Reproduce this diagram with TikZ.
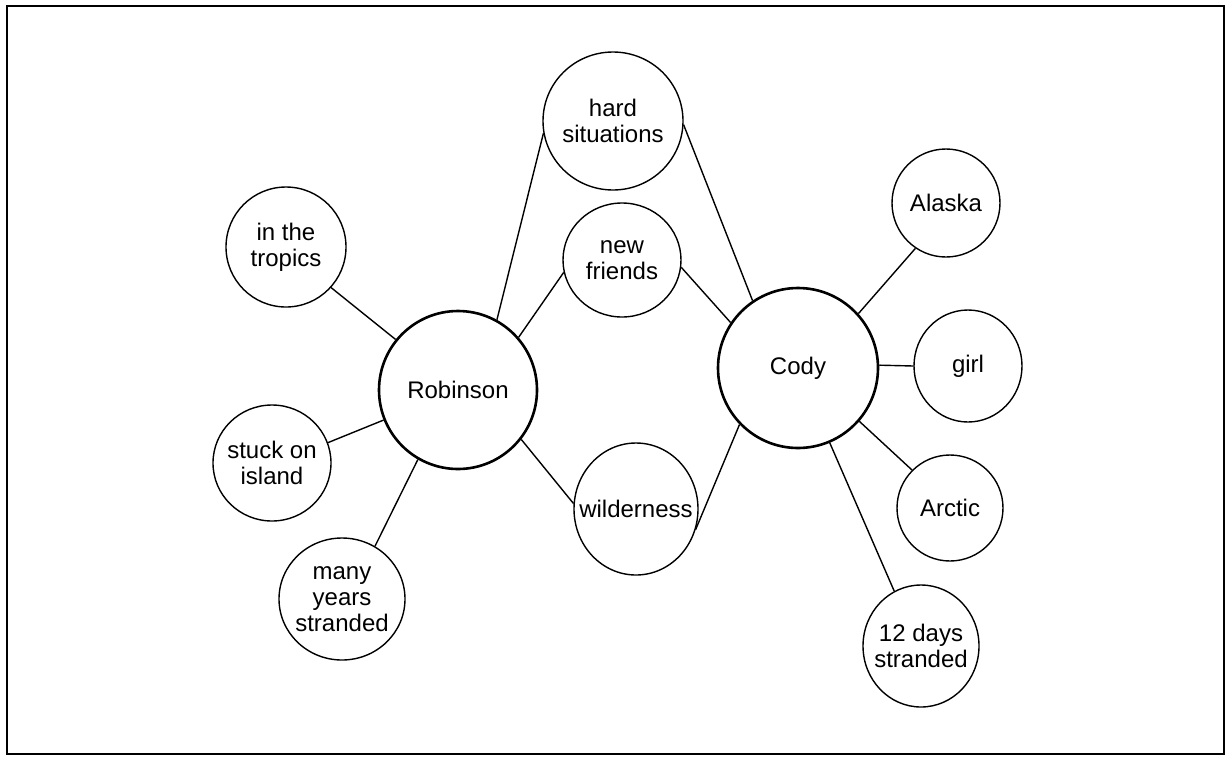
\documentclass[tikz,border=0pt]{standalone}
\usepackage{fontspec}
\setmainfont{Liberation Sans}
\usetikzlibrary{shapes.geometric}
\begin{document}
\begin{tikzpicture}[x=1pt,y=-1pt,
  bub/.style={ellipse, draw, line width=1.4pt, inner xsep=-30pt, inner ysep=-20pt,
    align=center, font=\fontsize{24}{26}\selectfont},
  bigbub/.style={bub, line width=2.6pt},
  link/.style={line width=1.4pt},
  frame/.style={line width=2pt}]
\useasboundingbox (0,0) rectangle (1226,756);
\draw[frame] (7,6) rectangle (1224,754);
% central nodes
\node[bigbub, minimum width=158pt, minimum height=158pt] (rob) at (458,390) {Robinson};
\node[bigbub, minimum width=160pt, minimum height=160pt] (cody) at (798,368) {Cody};
% shared
\node[bub, minimum width=140pt, minimum height=138pt] (hard) at (613,121) {hard\\situations};
\node[bub, minimum width=118pt, minimum height=114pt] (newf) at (622,260) {new\\friends};
\node[bub, minimum width=124pt, minimum height=132pt] (wild) at (636,509) {wilderness};
% Robinson side
\node[bub, minimum width=120pt, minimum height=120pt] (trop) at (286,247) {in the\\tropics};
\node[bub, minimum width=118pt, minimum height=116pt] (stuck) at (272,463) {stuck on\\island};
\node[bub, minimum width=126pt, minimum height=122pt] (many) at (342,599) {many\\years\\stranded};
% Cody side
\node[bub, minimum width=108pt, minimum height=108pt] (alaska) at (946,203) {Alaska};
\node[bub, minimum width=108pt, minimum height=112pt] (girl) at (968,366) {girl};
\node[bub, minimum width=106pt, minimum height=106pt] (arctic) at (950,508) {Arctic};
\node[bub, minimum width=116pt, minimum height=122pt] (days) at (921,646) {12 days\\stranded};
% connectors
\draw[link] (rob.61) -- (hard.190);
\draw[link] (rob.41) -- (newf.192);
\draw[link] (rob.-38) -- (wild.175);
\draw[link] (rob.141) -- (trop.-42);
\draw[link] (rob.202) -- (stuck.20);
\draw[link] (rob.240) -- (many.58);
\draw[link] (cody.124) -- (hard.-3);
\draw[link] (cody.146) -- (newf.-7);
\draw[link] (cody.224) -- (wild.-19);
\draw[link] (cody.42) -- (alaska.236);
\draw[link] (cody.2) -- (girl.180);
\draw[link] (cody.-41) -- (arctic.135);
\draw[link] (cody.-67) -- (days.116);
\end{tikzpicture}
\end{document}
